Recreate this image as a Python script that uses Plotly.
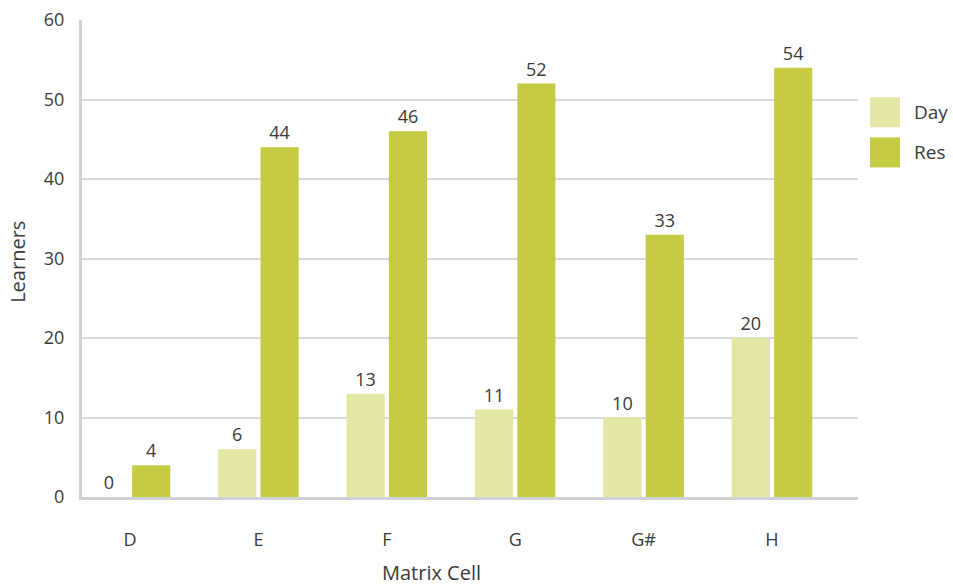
import plotly.graph_objects as go

categories = ["D", "E", "F", "G", "G#", "H"]
day_values = [0, 6, 13, 11, 10, 20]
res_values = [4, 44, 46, 52, 33, 54]
y_ticks = [0, 10, 20, 30, 40, 50, 60]

DAY_COLOR = "#E3E6A4"
RES_COLOR = "#C5CC43"
TEXT_COLOR = "#3a3a3a"
GRID_COLOR = "#D8D8DD"
FONT = "Open Sans, Noto Sans, sans-serif"

fig = go.Figure()
for name, vals, color in [("Day", day_values, DAY_COLOR), ("Res", res_values, RES_COLOR)]:
    fig.add_trace(go.Bar(
        name=name, x=categories, y=vals, marker=dict(color=color, line=dict(width=0)),
        text=[str(v) for v in vals], textposition="outside", cliponaxis=False,
        textfont=dict(size=18, color=TEXT_COLOR, family=FONT),
        showlegend=False,
    ))

# Custom legend: colour squares with labels on the right of the plot
legend_items = [("Day", DAY_COLOR), ("Res", RES_COLOR)]
for i, (name, color) in enumerate(legend_items):
    top = 0.838 - i * 0.084
    fig.add_shape(type="rect", xref="paper", yref="paper",
                  x0=1.0155, x1=1.0542, y0=top - 0.063, y1=top,
                  fillcolor=color, line=dict(width=0))
    fig.add_annotation(xref="paper", yref="paper", x=1.069, y=top - 0.0315,
                       text=name, showarrow=False, xanchor="left", yanchor="middle",
                       font=dict(size=19, color=TEXT_COLOR, family=FONT))

# Axis titles
fig.add_annotation(xref="paper", yref="paper", x=0.451, y=-0.159,
                   text="Matrix Cell", showarrow=False, xanchor="center", yanchor="middle",
                   font=dict(size=20, color=TEXT_COLOR, family=FONT))
fig.add_annotation(xref="paper", yref="paper", x=-0.0825, y=0.493, textangle=-90,
                   text="Learners", showarrow=False, xanchor="center", yanchor="middle",
                   font=dict(size=20, color=TEXT_COLOR, family=FONT))

fig.update_layout(
    width=953, height=587,
    margin=dict(l=82, r=95, t=20, b=90),
    paper_bgcolor="white", plot_bgcolor="white",
    barmode="group", bargap=0.34, bargroupgap=0.1,
    font=dict(family=FONT, color=TEXT_COLOR),
    xaxis=dict(
        range=[-0.374, 5.67], automargin=False,
        showgrid=False, showline=True, linecolor="#D0D0D5", linewidth=3,
        ticks="", ticklabelstandoff=24,
        tickfont=dict(size=18, color=TEXT_COLOR),
    ),
    yaxis=dict(
        range=[0, 60], tickvals=y_ticks, automargin=False,
        showgrid=True, gridcolor=GRID_COLOR, gridwidth=2,
        zeroline=False, showline=True, linecolor="#D0D0D5", linewidth=3,
        ticks="", ticklabelstandoff=11,
        tickfont=dict(size=18, color=TEXT_COLOR),
    ),
)

fig.write_html("out.html")
